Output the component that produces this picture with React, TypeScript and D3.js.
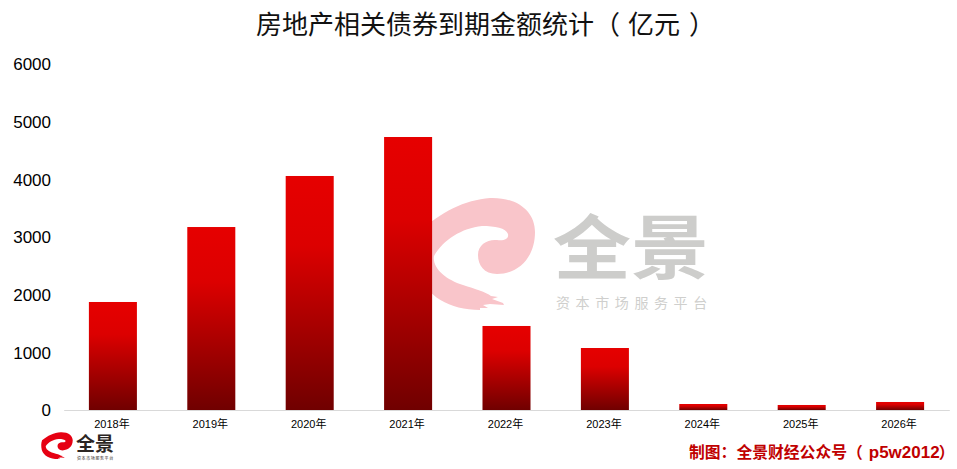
import React, { useEffect, useRef } from 'react';
import * as d3 from 'd3';

const years = ['2018年', '2019年', '2020年', '2021年', '2022年', '2023年', '2024年', '2025年', '2026年'];
const amounts = [1873, 3173, 4058, 4734, 1457, 1075, 104, 87, 139];
const yTicks = [0, 1000, 2000, 3000, 4000, 5000, 6000];

const cjk = '"Noto Sans CJK SC", "Liberation Sans", sans-serif';
const latin = '"Liberation Sans", "Noto Sans CJK SC", sans-serif';

// the swirl of the logo, in the coordinates of the big watermark
const swirl =
  'M420 232 C440 212 465 200 490 198 C518 197 535 212 535 232 C535 258 518 274 497 274 C484 274 478 265 478 255 ' +
  'C478 244 488 239 497 240 C504 241 509 239 508 234 C506 228 495 226 482 226 C462 228 443 240 434 256 ' +
  'C432 268 446 280 463 285 C475 289 486 292 491 296 L498 297 L492 299 L503 303 L504 305 L490 304 L483 305 L488 308 L480 308 ' +
  'L480 310 C450 310 425 296 419 272 C416 258 416 244 420 232 Z';

const App = () => {
  const ref = useRef<SVGSVGElement>(null);

  useEffect(() => {
    const svg = d3.select(ref.current);
    svg.selectAll('*').remove();

    const x = d3.scaleBand().domain(years).range([63.7, 949.3]).paddingInner(0.512).paddingOuter(0.256);
    const y = d3.scaleLinear().domain([0, 6000]).range([410, 64]);

    const grad = svg.append('defs').append('linearGradient')
      .attr('id', 'barFill').attr('x1', 0).attr('y1', 0).attr('x2', 0).attr('y2', 1);
    grad.append('stop').attr('offset', '0%').attr('stop-color', '#e60000');
    grad.append('stop').attr('offset', '30%').attr('stop-color', '#dc0000');
    grad.append('stop').attr('offset', '100%').attr('stop-color', '#700000');

    // title
    const title = svg.append('text')
      .attr('x', 256).attr('y', 34)
      .style('font-family', cjk).style('font-size', '26px').attr('fill', '#111');
    title.append('tspan').text('房地产相关债券到期金额统计（');
    title.append('tspan').attr('dx', 8).text('亿元');
    title.append('tspan').attr('dx', 9).text('）');

    // watermark
    svg.append('path').attr('d', swirl).attr('fill', '#f9c5ca');
    svg.append('text').attr('transform', 'translate(553,274) scale(1,0.9)')
      .style('font-family', cjk).style('font-size', '78px').style('font-weight', 700)
      .attr('fill', '#cdcdcb').text('全景');
    svg.append('text').attr('x', 556).attr('y', 308)
      .style('font-family', cjk).style('font-size', '14px').style('letter-spacing', '5.6px')
      .attr('fill', '#cfcfcd').text('资本市场服务平台');

    // bars
    svg.selectAll('.bar').data(amounts).enter().append('rect')
      .attr('class', 'bar')
      .attr('x', (_, i) => x(years[i]) || 0)
      .attr('y', d => y(d))
      .attr('width', x.bandwidth())
      .attr('height', d => y(0) - y(d))
      .attr('fill', 'url(#barFill)');

    // axes
    const xAxis = svg.append('g')
      .attr('transform', `translate(0,${y(0)})`)
      .call(d3.axisBottom(x).tickSize(0).tickPadding(10));
    xAxis.select('.domain').attr('stroke', '#d9d9d9').attr('stroke-width', 1);
    xAxis.selectAll('text')
      .attr('dx', -1)
      .style('font-family', latin).style('font-size', '11px').attr('fill', '#000');

    const yAxis = svg.append('g')
      .attr('transform', 'translate(51,0.5)')
      .call(d3.axisLeft(y).tickValues(yTicks).tickSize(0).tickPadding(0).tickFormat(d3.format('d')));
    yAxis.select('.domain').remove();
    yAxis.selectAll('text')
      .style('font-family', latin).style('font-size', '17px').attr('fill', '#000');

    // small logo bottom left
    const k = 32 / 120;
    svg.append('path').attr('d', swirl)
      .attr('transform', `translate(41,432) scale(${k},${27 / 113}) translate(-416,-197)`)
      .attr('fill', '#e60012');
    svg.append('text').attr('x', 76).attr('y', 451)
      .style('font-family', cjk).style('font-size', '19px').style('font-weight', 700)
      .attr('fill', '#2b2523').text('全景');
    svg.append('text').attr('x', 77).attr('y', 459.5)
      .style('font-family', cjk).style('font-size', '4px').style('letter-spacing', '0.6px')
      .attr('fill', '#2b2523').text('资本市场服务平台');

    // credit
    const credit = svg.append('text').attr('x', 689).attr('y', 458)
      .style('font-family', cjk).style('font-size', '15.8px').style('font-weight', 700)
      .attr('fill', '#c00000');
    credit.append('tspan').text('制图：全景财经公众号（');
    credit.append('tspan').attr('dx', 6).style('font-family', latin).style('font-size', '17px').text('p5w2012');
    credit.append('tspan').attr('dx', -1).text('）');
  }, []);

  return (
    <svg
      ref={ref}
      width={957}
      height={469}
      style={{ position: 'absolute', left: 0, top: 0, background: '#fff' }}
    />
  );
};

export default App;
